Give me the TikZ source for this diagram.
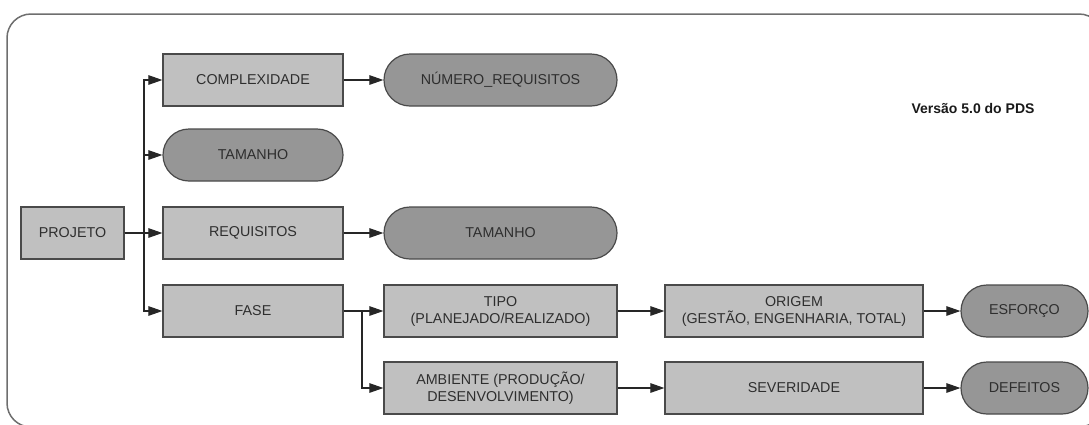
\documentclass[tikz,border=0pt]{standalone}
\usepackage{fontspec}
\setmainfont{Liberation Sans}
\usepackage{xcolor}
\usetikzlibrary{arrows.meta}

\definecolor{cinzaclaro}{HTML}{C0C0C0}
\definecolor{cinzaescuro}{HTML}{969696}
\definecolor{borda}{HTML}{4A4A4A}
\definecolor{texto}{HTML}{2E2E2E}

\tikzset{
  caixa/.style={draw=borda, line width=1.2pt, fill=cinzaclaro, minimum height=52pt,
    inner sep=0pt, align=center, text=texto, font=\fontsize{14.3}{17}\selectfont},
  terminal/.style={caixa, fill=cinzaescuro, rounded corners=26pt},
  seta/.style={draw=black!85, line width=1.1pt, -{Triangle[length=14pt,width=9.5pt]}}
}

\begin{document}
\begin{tikzpicture}[x=1pt, y=-1pt]
  \useasboundingbox (0,0) rectangle (1089,424);
  % moldura
  \draw[draw=borda!80, line width=1.5pt, rounded corners=24pt] (7,14) rectangle (1103,427);

  \node[caixa, minimum width=103pt] (projeto) at (72.5,233) {PROJETO};

  \node[caixa, minimum width=180pt] (complexidade) at (253,80) {COMPLEXIDADE};
  \node[terminal, minimum width=180pt] (tamanho1) at (253,155) {TAMANHO};
  \node[caixa, minimum width=180pt] (requisitos) at (253,233) {REQUISITOS};
  \node[caixa, minimum width=180pt] (fase) at (253,311) {FASE};

  \node[terminal, minimum width=233pt] (numreq) at (500.5,80) {NÚMERO\_REQUISITOS};
  \node[terminal, minimum width=233pt] (tamanho2) at (500.5,233) {TAMANHO};
  \node[caixa, minimum width=233pt] (tipo) at (500.5,311) {TIPO\\(PLANEJADO/REALIZADO)};
  \node[caixa, minimum width=233pt] (ambiente) at (500.5,388) {AMBIENTE (PRODUÇÃO/\\DESENVOLVIMENTO)};

  \node[caixa, minimum width=258pt] (origem) at (794,311) {ORIGEM\\(GESTÃO, ENGENHARIA, TOTAL)};
  \node[caixa, minimum width=258pt] (severidade) at (794,388) {SEVERIDADE};

  \node[terminal, minimum width=127pt] (esforco) at (1024.5,311) {ESFORÇO};
  \node[terminal, minimum width=127pt] (defeitos) at (1024.5,388) {DEFEITOS};

  \node[font=\bfseries\fontsize{14}{16}\selectfont, text=black!90] (versao) at (973,108) {Versão 5.0 do PDS};

  \coordinate (tronco) at (144,233);
  \coordinate (ramo) at (362,311);

  % ligacoes
  \draw[seta] (projeto.east) -- (tronco) |- (complexidade.west);
  \draw[seta] (projeto.east) -- (tronco) |- (tamanho1.west);
  \draw[seta] (projeto.east) -- (requisitos.west);
  \draw[seta] (projeto.east) -- (tronco) |- (fase.west);
  \draw[seta] (complexidade) -- (numreq);
  \draw[seta] (requisitos) -- (tamanho2);
  \draw[seta] (fase.east) -- (tipo.west);
  \draw[seta] (fase.east) -- (ramo) |- (ambiente.west);
  \draw[seta] (tipo) -- (origem);
  \draw[seta] (ambiente) -- (severidade);
  \draw[seta] (origem) -- (esforco);
  \draw[seta] (severidade) -- (defeitos);
\end{tikzpicture}
\end{document}
